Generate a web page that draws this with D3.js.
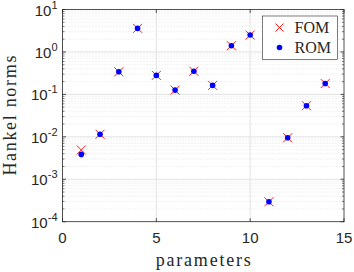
<!DOCTYPE html>
<html>
<head>
<meta charset="utf-8">
<script src="https://cdn.jsdelivr.net/npm/d3@7"></script>
<style>
  body { margin: 0; background: #fff; }
  svg { display: block; }
  .tick-label { font-family: "Liberation Sans", Arial, sans-serif; font-size: 15px; fill: #262626; }
  .axis-title, .legend-text { font-family: "Liberation Serif", "DejaVu Serif", serif; fill: #262626; }
</style>
</head>
<body>
<div id="chart"></div>
<script>
const params = [1, 2, 3, 4, 5, 6, 7, 8, 9, 10, 11, 12, 13, 14];
const fom = [0.0049, 0.0115, 0.34, 3.6, 0.28, 0.126, 0.35, 0.163, 1.4, 2.5, 0.000295, 0.0095, 0.054, 0.18];
const rom = [0.00385, 0.0115, 0.34, 3.6, 0.28, 0.126, 0.35, 0.163, 1.4, 2.5, 0.000295, 0.0095, 0.054, 0.18];
const xTicks = [0, 5, 10, 15];
const yExps = [-4, -3, -2, -1, 0, 1];
const legendNames = ["FOM", "ROM"];

const width = 354, height = 272;
const margin = { left: 62.5, right: 10, top: 9.5, bottom: 50.3 };

const svg = d3.select('#chart').append('svg')
    .attr('width', width)
    .attr('height', height);

const x = d3.scaleLinear().domain([0, 15]).range([margin.left, width - margin.right]);
const y = d3.scaleLog().domain([1e-4, 10]).range([height - margin.bottom, margin.top]);

const x0 = x.range()[0], x1 = x.range()[1];
const y0 = y.range()[0], y1 = y.range()[1];

// minor grid (dotted)
const minors = [];
yExps.slice(0, -1).forEach(e => {
    for (let m = 2; m <= 9; m++) minors.push(m * Math.pow(10, e));
});
svg.append('g').selectAll('line').data(minors).enter().append('line')
    .attr('x1', x0).attr('x2', x1)
    .attr('y1', d => y(d)).attr('y2', d => y(d))
    .attr('stroke', '#d4d4d4').attr('stroke-width', 0.6)
    .attr('stroke-dasharray', '1,2');

// major grid
svg.append('g').selectAll('line').data(yExps.slice(1, -1)).enter().append('line')
    .attr('x1', x0).attr('x2', x1)
    .attr('y1', d => y(Math.pow(10, d))).attr('y2', d => y(Math.pow(10, d)))
    .attr('stroke', '#e2e2e2').attr('stroke-width', 1);
svg.append('g').selectAll('line').data(xTicks.slice(1, -1)).enter().append('line')
    .attr('x1', d => x(d)).attr('x2', d => x(d))
    .attr('y1', y0).attr('y2', y1)
    .attr('stroke', '#e2e2e2').attr('stroke-width', 1);

// axes with inward ticks, box
const axisColor = '#262626';
const tickLen = 3.5;
const ax = svg.append('g');
ax.append('rect')
    .attr('x', x0).attr('y', y1)
    .attr('width', x1 - x0).attr('height', y0 - y1)
    .attr('fill', 'none').attr('stroke', axisColor).attr('stroke-width', 0.8);

xTicks.forEach(t => {
    ax.append('line').attr('x1', x(t)).attr('x2', x(t)).attr('y1', y0).attr('y2', y0 - tickLen)
        .attr('stroke', axisColor).attr('stroke-width', 0.8);
    ax.append('line').attr('x1', x(t)).attr('x2', x(t)).attr('y1', y1).attr('y2', y1 + tickLen)
        .attr('stroke', axisColor).attr('stroke-width', 0.8);
    ax.append('text').attr('class', 'tick-label')
        .attr('x', x(t)).attr('y', y0 + 21)
        .attr('text-anchor', 'middle')
        .text(t);
});

yExps.forEach(e => {
    const yy = y(Math.pow(10, e));
    ax.append('line').attr('x1', x0).attr('x2', x0 + tickLen).attr('y1', yy).attr('y2', yy)
        .attr('stroke', axisColor).attr('stroke-width', 0.8);
    ax.append('line').attr('x1', x1).attr('x2', x1 - tickLen).attr('y1', yy).attr('y2', yy)
        .attr('stroke', axisColor).attr('stroke-width', 0.8);
    const tx = ax.append('text').attr('class', 'tick-label')
        .attr('x', x0 - 5).attr('y', yy + 6)
        .attr('text-anchor', 'end');
    tx.append('tspan').text('10');
    tx.append('tspan').attr('dy', -7).attr('font-size', 11).text(e);
});
minors.forEach(v => {
    ax.append('line').attr('x1', x0).attr('x2', x0 + 2).attr('y1', y(v)).attr('y2', y(v))
        .attr('stroke', axisColor).attr('stroke-width', 0.6);
    ax.append('line').attr('x1', x1).attr('x2', x1 - 2).attr('y1', y(v)).attr('y2', y(v))
        .attr('stroke', axisColor).attr('stroke-width', 0.6);
});

// axis titles
svg.append('text').attr('class', 'axis-title')
    .attr('x', (x0 + x1) / 2).attr('y', height - 6)
    .attr('text-anchor', 'middle').attr('font-size', 18)
    .attr('textLength', 95).attr('lengthAdjust', 'spacing')
    .text('parameters');
svg.append('text').attr('class', 'axis-title')
    .attr('transform', 'translate(15.5,' + (y0 + y1) / 2 + ') rotate(-90)')
    .attr('text-anchor', 'middle').attr('font-size', 18)
    .attr('textLength', 120).attr('lengthAdjust', 'spacing')
    .text('Hankel norms');

// markers
function cross(g, cx, cy, s, color) {
    g.append('path')
        .attr('d', `M${cx - s},${cy - s}L${cx + s},${cy + s}M${cx - s},${cy + s}L${cx + s},${cy - s}`)
        .attr('stroke', color).attr('stroke-width', 0.9).attr('fill', 'none');
}
const fomG = svg.append('g');
params.forEach((p, i) => cross(fomG, x(p), y(fom[i]), 4.5, '#ff0000'));
svg.append('g').selectAll('circle').data(params).enter().append('circle')
    .attr('cx', d => x(d)).attr('cy', (d, i) => y(rom[i]))
    .attr('r', 2.8).attr('fill', '#0000ff');

// legend
const lg = svg.append('g');
lg.append('rect').attr('x', 262.5).attr('y', 16).attr('width', 75).attr('height', 43.5)
    .attr('fill', '#fff').attr('stroke', '#262626').attr('stroke-width', 0.6);
cross(lg, 279.5, 27.5, 4, '#ff0000');
lg.append('circle').attr('cx', 279.5).attr('cy', 47.5).attr('r', 2.8).attr('fill', '#0000ff');
legendNames.forEach((n, i) => {
    lg.append('text').attr('class', 'legend-text')
        .attr('x', 294.5).attr('y', 33 + i * 20).attr('font-size', 16)
        .text(n);
});
</script>
</body>
</html>
